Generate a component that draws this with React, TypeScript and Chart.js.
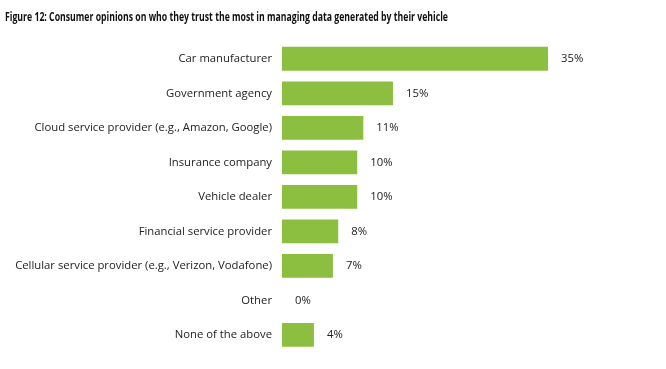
import React, { useEffect, useRef } from "react";
import { Chart, registerables } from "chart.js";

Chart.register(...registerables);

const TITLE = "Figure 12: Consumer opinions on who they trust the most in managing data generated by their vehicle";
const categories = [
  "Car manufacturer",
  "Government agency",
  "Cloud service provider (e.g., Amazon, Google)",
  "Insurance company",
  "Vehicle dealer",
  "Financial service provider",
  "Cellular service provider (e.g., Verizon, Vodafone)",
  "Other",
  "None of the above",
];
const values = [35, 14.6, 10.7, 9.9, 9.9, 7.4, 6.7, 0, 4.2];
const valueLabels = ["35%", "15%", "11%", "10%", "10%", "8%", "7%", "0%", "4%"];

const BAR_COLOR = "#8cbf3f";
const TEXT_COLOR = "#222222";

export default function App() {
  const ref = useRef<HTMLCanvasElement>(null);
  useEffect(() => {
    const canvas = ref.current!;
    const titlePlugin = {
      id: "customTitle",
      afterDraw(chart: any) {
        const ctx = chart.ctx;
        ctx.save();
        ctx.font = "bold 12.5px 'Open Sans', sans-serif";
        ctx.fillStyle = "#111111";
        ctx.textBaseline = "middle";
        ctx.textAlign = "left";
        const w = ctx.measureText(TITLE).width;
        const target = 443;
        ctx.translate(5, 17);
        ctx.scale(target / w, 1);
        ctx.fillText(TITLE, 0, 0);
        ctx.restore();
      },
    };
    const valuePlugin = {
      id: "valueLabels",
      afterDatasetsDraw(chart: any) {
        const ctx = chart.ctx;
        const meta = chart.getDatasetMeta(0);
        ctx.save();
        ctx.font = "11.3px 'Open Sans', sans-serif";
        ctx.fillStyle = TEXT_COLOR;
        ctx.textBaseline = "middle";
        ctx.textAlign = "left";
        meta.data.forEach((bar: any, i: number) => {
          ctx.fillText(valueLabels[i], bar.x + 13, bar.y);
        });
        ctx.restore();
      },
    };
    const chart = new Chart(canvas, {
      type: "bar",
      data: {
        labels: categories,
        datasets: [
          {
            data: values,
            backgroundColor: BAR_COLOR,
            borderWidth: 0,
            categoryPercentage: 0.69,
            barPercentage: 1,
          },
        ],
      },
      options: {
        indexAxis: "y",
        animation: false,
        responsive: false,
        maintainAspectRatio: false,
        layout: { padding: { top: 41.5, bottom: 13.5, left: 0, right: 80 } },
        plugins: {
          legend: { display: false },
          title: { display: false },
          tooltip: { enabled: false },
        },
        scales: {
          x: {
            display: false,
            min: 0,
            max: 40,
          },
          y: {
            grid: { display: false, drawTicks: false },
            border: { display: false },
            ticks: {
              color: TEXT_COLOR,
              font: { family: "'Open Sans', sans-serif", size: 11.3 },
              padding: 10,
            },
            afterFit(scale: any) {
              scale.width = 282;
            },
          },
        },
      },
      plugins: [titlePlugin, valuePlugin],
    });
    return () => chart.destroy();
  }, []);
  return (
    <div style={{ position: "fixed", left: 0, top: 0, width: 666, height: 369, background: "#fff" }}>
      <canvas ref={ref} width={666} height={369} />
    </div>
  );
}
